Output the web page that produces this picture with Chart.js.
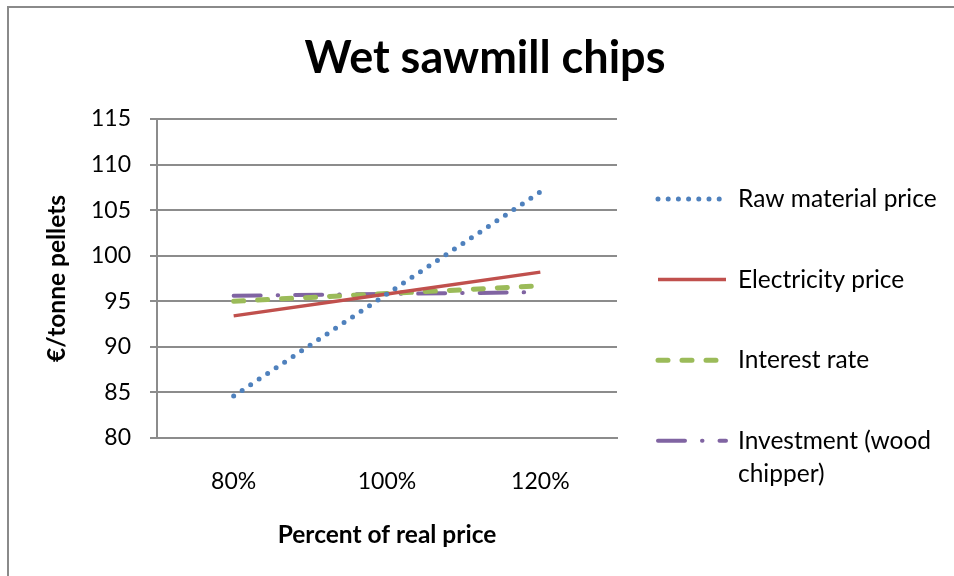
<!DOCTYPE html>
<html lang="en">
<head>
    <meta charset="UTF-8">
    <title>Wet sawmill chips</title>
    <style>
        html, body {
            margin: 0;
            padding: 0;
            overflow: hidden;
            background: #fff;
        }

        #wrap {
            position: relative;
            width: 954px;
            height: 576px;
        }

        /* outer chart frame, runs off the right and bottom edge */
        #frame {
            position: absolute;
            left: 7px;
            top: 6px;
            width: 1000px;
            height: 1000px;
            border: 2px solid #8a8a8a;
            pointer-events: none;
        }
    </style>
    <script src="https://cdn.jsdelivr.net/npm/chart.js"></script>
</head>
<body>
    <div id="wrap">
        <canvas id="chart" width="954" height="576"></canvas>
        <div id="frame"></div>
    </div>
    <script>
        const categories = ['80%', '100%', '120%'];

        const rawMaterialPrice = [84.6, 95.8, 107.0];
        const electricityPrice = [93.4, 95.8, 98.2];
        const interestRate = [95.0, 95.85, 96.7];
        const investment = [95.6, 95.8, 96.0];

        const seriesLabels = ['Raw material price', 'Electricity price', 'Interest rate', 'Investment (wood chipper)'];
        const yMin = 80, yMax = 115, yStep = 5;

        const FONT = 'Lato, "Noto Sans", sans-serif';
        const GRID = '#8c8c8c';

        // legend drawn to the right of the plot, using each dataset's own line style
        const sideLegend = {
            id: 'sideLegend',
            afterDraw(chart, args, opts) {
                const { ctx, chartArea } = chart;
                ctx.save();
                ctx.font = opts.size + 'px ' + FONT;
                chart.data.datasets.forEach((ds, i) => {
                    const y = chartArea.top + opts.firstRow + i * opts.rowGap;
                    const x0 = chartArea.right + opts.symbolStart;

                    ctx.beginPath();
                    ctx.strokeStyle = ds.borderColor;
                    ctx.lineWidth = ds.borderWidth;
                    ctx.lineCap = ds.borderCapStyle || 'butt';
                    ctx.setLineDash(ds.borderDash || []);
                    ctx.moveTo(x0, y);
                    ctx.lineTo(x0 + opts.symbolWidth, y);
                    ctx.stroke();
                    ctx.setLineDash([]);

                    // simple word wrap
                    const words = ds.label.split(' ');
                    const lines = [];
                    let line = '';
                    words.forEach(w => {
                        const test = line ? line + ' ' + w : w;
                        if (line && ctx.measureText(test).width > opts.maxTextWidth) {
                            lines.push(line);
                            line = w;
                        } else {
                            line = test;
                        }
                    });
                    lines.push(line);

                    ctx.fillStyle = '#000';
                    ctx.textAlign = 'left';
                    ctx.textBaseline = 'middle';
                    lines.forEach((t, k) => {
                        ctx.fillText(t, chartArea.right + opts.textStart, y + k * opts.lineHeight);
                    });
                });
                ctx.restore();
            }
        };

        function createChart() {
            const ctx = document.getElementById('chart').getContext('2d');
            new Chart(ctx, {
                type: 'line',
                data: {
                    labels: categories,
                    datasets: [{
                        label: seriesLabels[0],
                        data: rawMaterialPrice,
                        borderColor: '#4F81BD',
                        borderWidth: 5,
                        borderDash: [0, 10.2],
                        borderCapStyle: 'round'
                    }, {
                        label: seriesLabels[1],
                        data: electricityPrice,
                        borderColor: '#C0504D',
                        borderWidth: 3.5,
                        borderCapStyle: 'butt'
                    }, {
                        label: seriesLabels[2],
                        data: interestRate,
                        borderColor: '#9BBB59',
                        borderWidth: 5,
                        borderDash: [10, 14],
                        borderCapStyle: 'round'
                    }, {
                        label: seriesLabels[3],
                        data: investment,
                        borderColor: '#8064A2',
                        borderWidth: 4,
                        borderDash: [27, 17, 0.5, 17],
                        borderCapStyle: 'round'
                    }]
                },
                options: {
                    responsive: false,
                    animation: false,
                    elements: {
                        point: { radius: 0, hoverRadius: 0 },
                        line: { tension: 0 }
                    },
                    layout: {
                        padding: { left: 16, right: 0, top: 0, bottom: 0 }
                    },
                    plugins: {
                        legend: { display: false },
                        tooltip: { enabled: false },
                        title: {
                            display: true,
                            text: 'Wet sawmill chips',
                            color: '#000',
                            font: { family: FONT, size: 45, weight: 'bold' },
                            padding: { top: 31, bottom: 34 }
                        },
                        sideLegend: {
                            size: 24.5,
                            firstRow: 80,
                            rowGap: 80.6,
                            symbolStart: 41,
                            symbolWidth: 68,
                            textStart: 121,
                            maxTextWidth: 210,
                            lineHeight: 33
                        }
                    },
                    scales: {
                        x: {
                            offset: true,
                            grid: { display: false, drawTicks: false },
                            border: { display: true, color: GRID, width: 2 },
                            ticks: {
                                color: '#000',
                                padding: 30,
                                font: { family: FONT, size: 23 }
                            },
                            title: {
                                display: true,
                                text: 'Percent of real price',
                                color: '#000',
                                font: { family: FONT, size: 24.5, weight: 'bold' },
                                padding: { top: 0, bottom: 26 }
                            },
                            afterFit: s => { s.height = 138; }
                        },
                        y: {
                            min: yMin,
                            max: yMax,
                            grid: { color: GRID, lineWidth: 2, tickLength: 7, drawTicks: true },
                            border: { display: true, color: GRID, width: 2 },
                            ticks: {
                                stepSize: yStep,
                                color: '#000',
                                padding: 19,
                                font: { family: FONT, size: 23 }
                            },
                            title: {
                                display: true,
                                text: '€/tonne pellets',
                                color: '#000',
                                font: { family: FONT, size: 24.5, weight: 'bold' },
                                padding: { top: 26, bottom: 0 }
                            },
                            afterFit: s => { s.width = 141; }
                        },
                        // empty axis that only keeps room for the legend on the right
                        legendSpace: {
                            type: 'linear',
                            axis: 'y',
                            position: 'right',
                            grid: { display: false, drawTicks: false },
                            border: { display: false },
                            ticks: { display: false },
                            afterFit: s => { s.width = 337; }
                        }
                    }
                },
                plugins: [sideLegend]
            });
        }

        window.onload = createChart;
    </script>
</body>
</html>
